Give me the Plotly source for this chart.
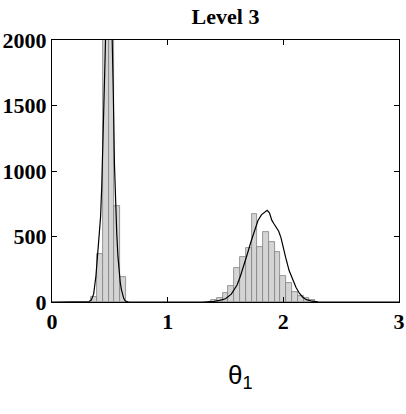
import plotly.graph_objects as go

# Histogram bins (centers) and counts
bar_x = [0.365, 0.415, 0.465, 0.515, 0.565, 0.615,
         1.40, 1.45, 1.50, 1.55, 1.60, 1.65, 1.70, 1.75, 1.80, 1.85,
         1.90, 1.95, 2.00, 2.05, 2.10, 2.15, 2.20, 2.25]
bar_y = [40, 370, 2700, 2600, 730, 190,
         17, 33, 66, 125, 257, 346, 412, 670, 418, 533,
         455, 380, 200, 143, 79, 46, 28, 15]
bin_width = 0.05

# Fitted density curve
curve_x = [0.0, 0.30, 0.32, 0.34, 0.36, 0.38, 0.39, 0.40, 0.41, 0.42, 0.43, 0.44,
           0.45, 0.46, 0.47, 0.48, 0.49, 0.50, 0.51, 0.52, 0.53, 0.54, 0.55,
           0.56, 0.57, 0.58, 0.59, 0.60, 0.61, 0.62, 0.63, 0.64, 0.66, 0.70,
           1.30, 1.35, 1.40, 1.45, 1.50, 1.55, 1.60, 1.63, 1.66, 1.69, 1.72,
           1.75, 1.78, 1.81, 1.84, 1.86, 1.88, 1.90, 1.92, 1.94, 1.96, 1.98,
           2.00, 2.02, 2.05, 2.09, 2.11, 2.14, 2.17, 2.20, 2.25, 2.30, 2.35, 3.0]
curve_y = [0, 0, 4, 15, 60, 200, 300, 400, 500, 650, 880, 1180,
           1500, 1900, 2300, 2600, 2700, 2650, 2450, 2100, 1600, 1050, 750,
           520, 350, 230, 150, 95, 55, 28, 12, 5, 1, 0,
           0, 2, 5, 12, 25, 60, 130, 200, 280, 370, 460,
           550, 620, 665, 690, 700, 680, 625, 595, 565, 540, 490,
           410, 340, 240, 150, 110, 65, 35, 18, 6, 1, 0, 0]

title_text = "Level 3"
x_label = "θ<sub>1</sub>"
x_ticks = [0, 1, 2, 3]
y_ticks = [0, 500, 1000, 1500, 2000]

fig = go.Figure()
fig.add_trace(go.Bar(
    x=bar_x, y=bar_y, width=bin_width,
    marker=dict(color="#d4d4d4", line=dict(color="#808080", width=0.8)),
    showlegend=False,
))
fig.add_trace(go.Scatter(
    x=curve_x, y=curve_y, mode="lines",
    line=dict(color="black", width=1.2),
    showlegend=False, cliponaxis=True,
))

tick_font = dict(family="Liberation Serif", size=22, color="black", weight="bold")

fig.update_layout(
    width=406, height=414,
    margin=dict(l=52, r=7, t=40, b=112, autoexpand=False),
    paper_bgcolor="white", plot_bgcolor="white",
    bargap=0,
    title=dict(text=title_text, xref="container", yref="container",
               x=225.5 / 406, xanchor="center", y=1 - 16 / 414, yanchor="middle",
               font=dict(family="Liberation Serif", size=22, color="black", weight="bold")),
    xaxis=dict(range=[0, 3], tickvals=x_ticks, ticks="inside", ticklen=5,
               tickcolor="black", showline=True, linecolor="black", linewidth=1,
               mirror="ticks", showgrid=False, zeroline=False, tickfont=tick_font,
               automargin=False, ticklabeloverflow="allow", ticklabelstandoff=0),
    yaxis=dict(range=[0, 2000], tickvals=y_ticks, ticks="inside", ticklen=5,
               tickcolor="black", showline=True, linecolor="black", linewidth=1,
               mirror="ticks", showgrid=False, zeroline=False, tickfont=tick_font,
               automargin=False, ticklabeloverflow="allow", ticklabelstandoff=0),
    annotations=[dict(text=x_label, xref="paper", yref="paper", x=0.542, y=-0.285,
                      xanchor="center", yanchor="middle", showarrow=False,
                      font=dict(family="Liberation Sans", size=26, color="black"))],
)

fig.write_html("out.html", config={"displayModeBar": False},
               post_script="document.body.style.margin='0';document.body.style.overflow='hidden';")
